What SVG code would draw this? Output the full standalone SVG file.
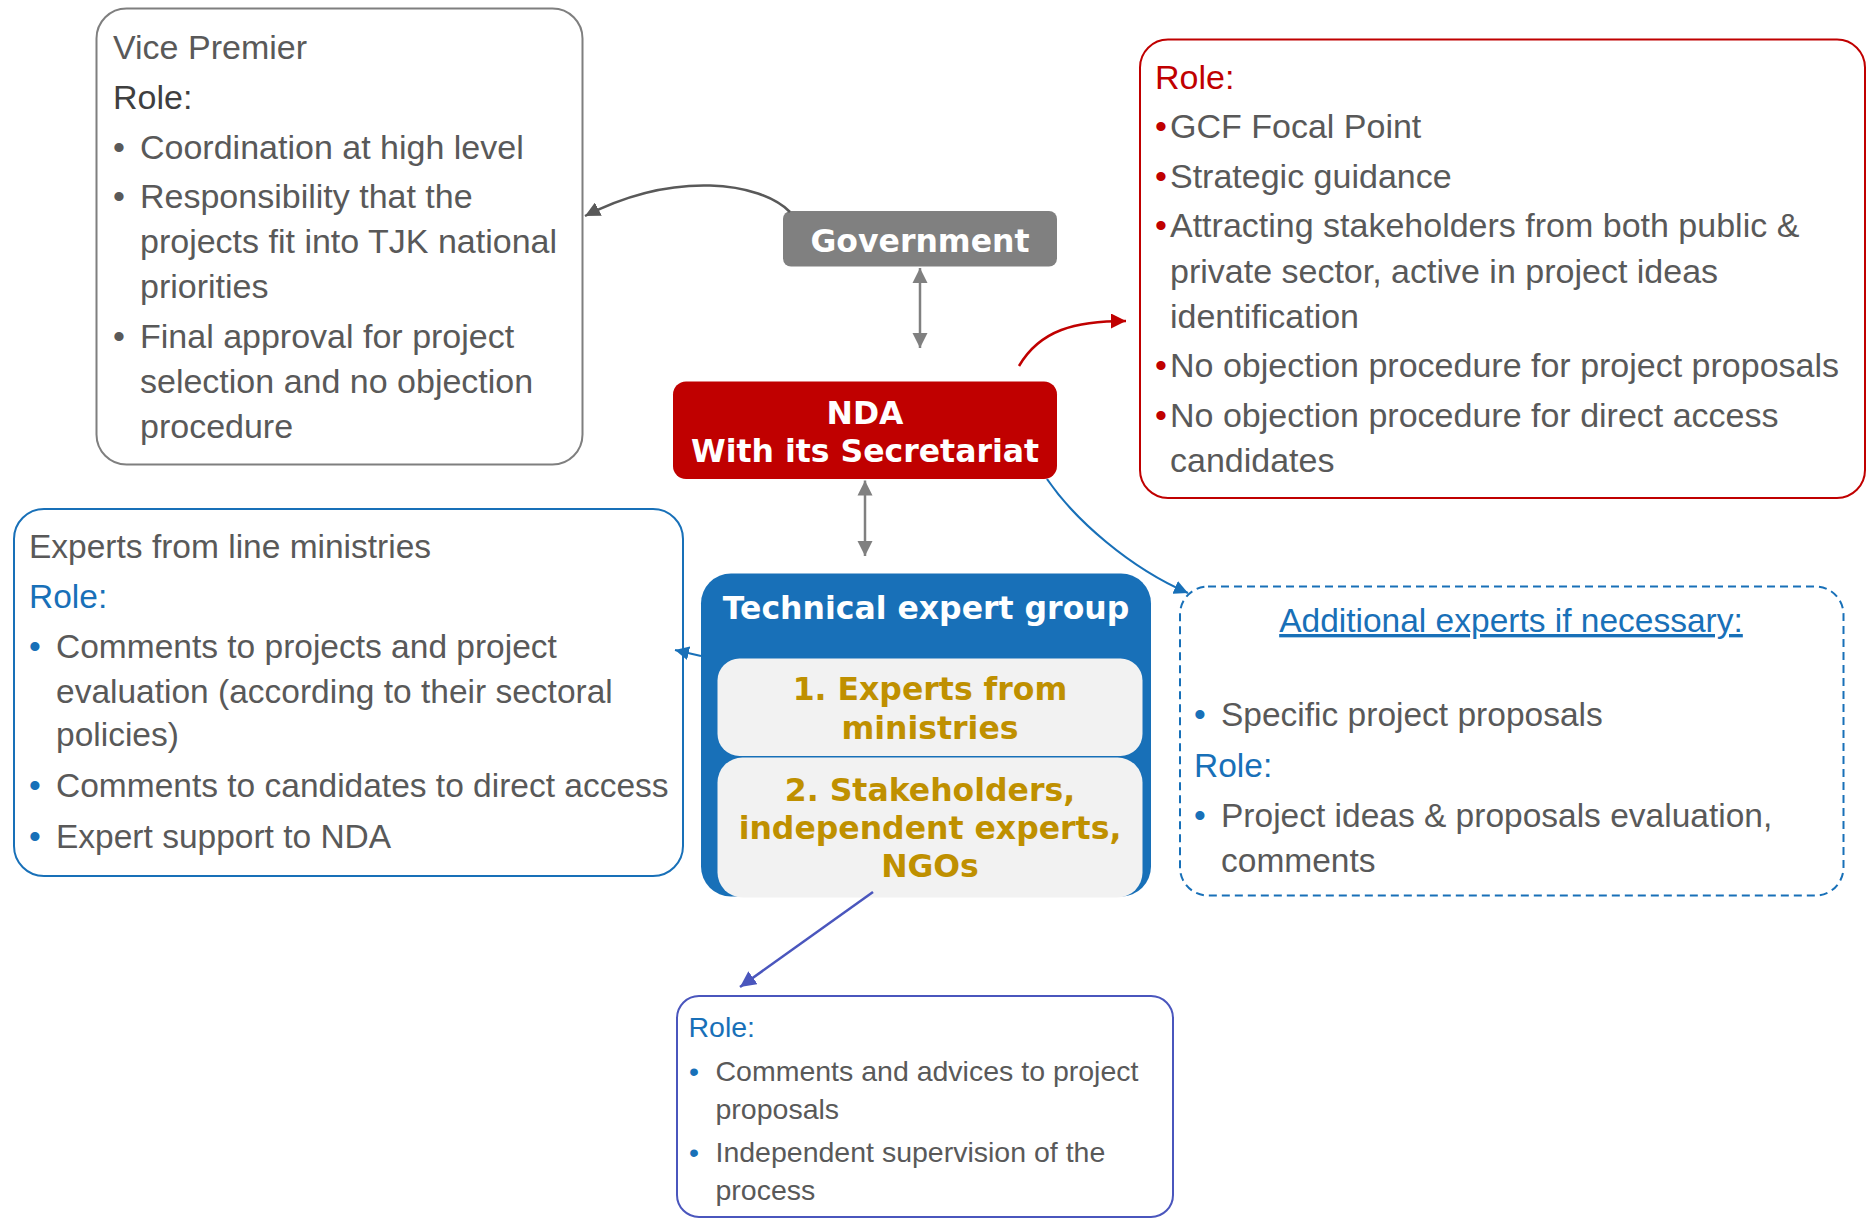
<svg xmlns="http://www.w3.org/2000/svg" width="1868" height="1219" viewBox="0 0 1868 1219">
<style>
.t{font-family:"Liberation Sans",Arial,sans-serif;font-size:33.5px;fill:#595959}
.t34{font-size:34px}
.s{font-family:"Liberation Sans",Arial,sans-serif;font-size:28.5px;fill:#595959}
.dk{fill:#3f3f3f}
.rd{fill:#c00000}
.bl{fill:#1870b8}
.b{font-family:"DejaVu Sans",Verdana,sans-serif;font-weight:bold;font-size:31.5px;text-anchor:middle}
.w{fill:#ffffff}
.g{fill:#bf9000}
</style>
<defs>
<marker id="mg" viewBox="0 0 10 10" refX="10" refY="5" markerWidth="15" markerHeight="16" markerUnits="userSpaceOnUse" orient="auto-start-reverse"><path d="M0,0 L10,5 L0,10 z" fill="#808080"/></marker>
<marker id="md" viewBox="0 0 10 10" refX="10" refY="5" markerWidth="15" markerHeight="15" markerUnits="userSpaceOnUse" orient="auto"><path d="M0,0 L10,5 L0,10 z" fill="#595959"/></marker>
<marker id="mr" viewBox="0 0 10 10" refX="10" refY="5" markerWidth="15" markerHeight="15" markerUnits="userSpaceOnUse" orient="auto"><path d="M0,0 L10,5 L0,10 z" fill="#c00000"/></marker>
<marker id="mb" viewBox="0 0 10 10" refX="10" refY="5" markerWidth="14" markerHeight="14" markerUnits="userSpaceOnUse" orient="auto"><path d="M0,0 L10,5 L0,10 z" fill="#1870b8"/></marker>
<marker id="mi" viewBox="0 0 10 10" refX="10" refY="5" markerWidth="16" markerHeight="16" markerUnits="userSpaceOnUse" orient="auto"><path d="M0,0 L10,5 L0,10 z" fill="#4a56bd"/></marker>
</defs>
<rect width="1868" height="1219" fill="#ffffff"/>

<g id="vice-premier">
<rect x="96.5" y="8.5" width="486" height="456" rx="30" fill="#ffffff" stroke="#7f7f7f" stroke-width="2"/>
<text class="t t34" x="113" y="59">Vice Premier</text>
<text class="t t34 dk" x="113" y="109">Role:</text>
<text class="t t34" x="113" y="158.5">•</text><text class="t t34" x="140" y="158.5">Coordination at high level</text>
<text class="t t34" x="113" y="208">•</text><text class="t t34" x="140" y="208">Responsibility that the</text>
<text class="t t34" x="140" y="253">projects fit into TJK national</text>
<text class="t t34" x="140" y="297.5">priorities</text>
<text class="t t34" x="113" y="347.5">•</text><text class="t t34" x="140" y="347.5">Final approval for project</text>
<text class="t t34" x="140" y="393">selection and no objection</text>
<text class="t t34" x="140" y="438">procedure</text>
</g>

<g id="nda-role">
<rect x="1140" y="39.5" width="725" height="458.5" rx="28" fill="#ffffff" stroke="#c00000" stroke-width="2"/>
<text class="t t34 rd" x="1155" y="89">Role:</text>
<text class="t t34 rd" x="1155" y="138">•</text><text class="t t34" x="1170" y="138">GCF Focal Point</text>
<text class="t t34 rd" x="1155" y="188">•</text><text class="t t34" x="1170" y="188">Strategic guidance</text>
<text class="t t34 rd" x="1155" y="237">•</text><text class="t t34" x="1170" y="237">Attracting stakeholders from both public &amp;</text>
<text class="t t34" x="1170" y="283">private sector, active in project ideas</text>
<text class="t t34" x="1170" y="327.5">identification</text>
<text class="t t34 rd" x="1155" y="377">•</text><text class="t t34" x="1170" y="377">No objection procedure for project proposals</text>
<text class="t t34 rd" x="1155" y="427">•</text><text class="t t34" x="1170" y="427">No objection procedure for direct access</text>
<text class="t t34" x="1170" y="472">candidates</text>
</g>

<g id="line-ministries">
<rect x="14" y="509" width="669" height="367" rx="30" fill="#ffffff" stroke="#1870b8" stroke-width="2"/>
<text class="t" x="29" y="557.5">Experts from line ministries</text>
<text class="t bl" x="29" y="608">Role:</text>
<text class="t bl" x="29" y="658">•</text><text class="t" x="56" y="658">Comments to projects and project</text>
<text class="t" x="56" y="703">evaluation (according to their sectoral</text>
<text class="t" x="56" y="746">policies)</text>
<text class="t bl" x="29" y="797">•</text><text class="t" x="56" y="797">Comments to candidates to direct access</text>
<text class="t bl" x="29" y="848">•</text><text class="t" x="56" y="848">Expert support to NDA</text>
</g>

<g id="additional-experts">
<rect x="1180" y="586.5" width="663.5" height="309" rx="28" fill="#ffffff" stroke="#1870b8" stroke-width="2" stroke-dasharray="8 5"/>
<text class="t bl" x="1511" y="632" text-anchor="middle" text-decoration="underline">Additional experts if necessary:</text>
<text class="t bl" x="1194" y="725.5">•</text><text class="t" x="1221" y="725.5">Specific project proposals</text>
<text class="t bl" x="1194" y="777">Role:</text>
<text class="t bl" x="1194" y="827">•</text><text class="t" x="1221" y="827">Project ideas &amp; proposals evaluation,</text>
<text class="t" x="1221" y="872">comments</text>
</g>

<g id="teg-role">
<rect x="677" y="996" width="496" height="221" rx="22" fill="#ffffff" stroke="#4a56bd" stroke-width="2"/>
<text class="s bl" x="688.5" y="1036.5">Role:</text>
<text class="s bl" x="689" y="1081">•</text><text class="s" x="715.5" y="1081">Comments and advices to project</text>
<text class="s" x="715.5" y="1118.5">proposals</text>
<text class="s bl" x="689" y="1162">•</text><text class="s" x="715.5" y="1162">Independent supervision of the</text>
<text class="s" x="715.5" y="1200">process</text>
</g>

<g id="government">
<rect x="783" y="211" width="274" height="55.5" rx="8" fill="#808080"/>
<text class="b w" x="920" y="252">Government</text>
</g>

<g id="nda">
<rect x="673" y="381.5" width="384" height="97.5" rx="13" fill="#c00000"/>
<text class="b w" x="865" y="423.5">NDA</text>
<text class="b w" x="865" y="462">With its Secretariat</text>
</g>

<g id="technical-expert-group">
<rect x="701" y="573.5" width="450" height="323" rx="30" fill="#1870b8"/>
<text class="b w" x="926" y="618.5">Technical expert group</text>
<rect x="717.5" y="658.5" width="425" height="97.5" rx="22" fill="#f2f2f2"/>
<rect x="717.5" y="757.5" width="425" height="140" rx="25" fill="#f2f2f2"/>
<text class="b g" x="930" y="700">1. Experts from</text>
<text class="b g" x="930" y="738.5">ministries</text>
<text class="b g" x="930" y="800.5">2. Stakeholders,</text>
<text class="b g" x="930" y="838.5">independent experts,</text>
<text class="b g" x="930" y="877">NGOs</text>
</g>

<g id="connectors" fill="none">
<path d="M790,212 C760,182 675,170 585,216" stroke="#595959" stroke-width="2.5" marker-end="url(#md)"/>
<line x1="920" y1="268" x2="920" y2="348" stroke="#808080" stroke-width="2.5" marker-start="url(#mg)" marker-end="url(#mg)"/>
<line x1="865" y1="480.5" x2="865" y2="556" stroke="#808080" stroke-width="2.5" marker-start="url(#mg)" marker-end="url(#mg)"/>
<path d="M1019,366 C1040,330 1075,321 1126,321" stroke="#c00000" stroke-width="2.5" marker-end="url(#mr)"/>
<path d="M1047,479 C1075,520 1130,568 1188,593" stroke="#1870b8" stroke-width="2.2" marker-end="url(#mb)"/>
<line x1="701" y1="656" x2="675" y2="650" stroke="#1870b8" stroke-width="2.2" marker-end="url(#mb)"/>
<line x1="873" y1="892" x2="740" y2="987" stroke="#4a56bd" stroke-width="2.5" marker-end="url(#mi)"/>
</g>
</svg>
